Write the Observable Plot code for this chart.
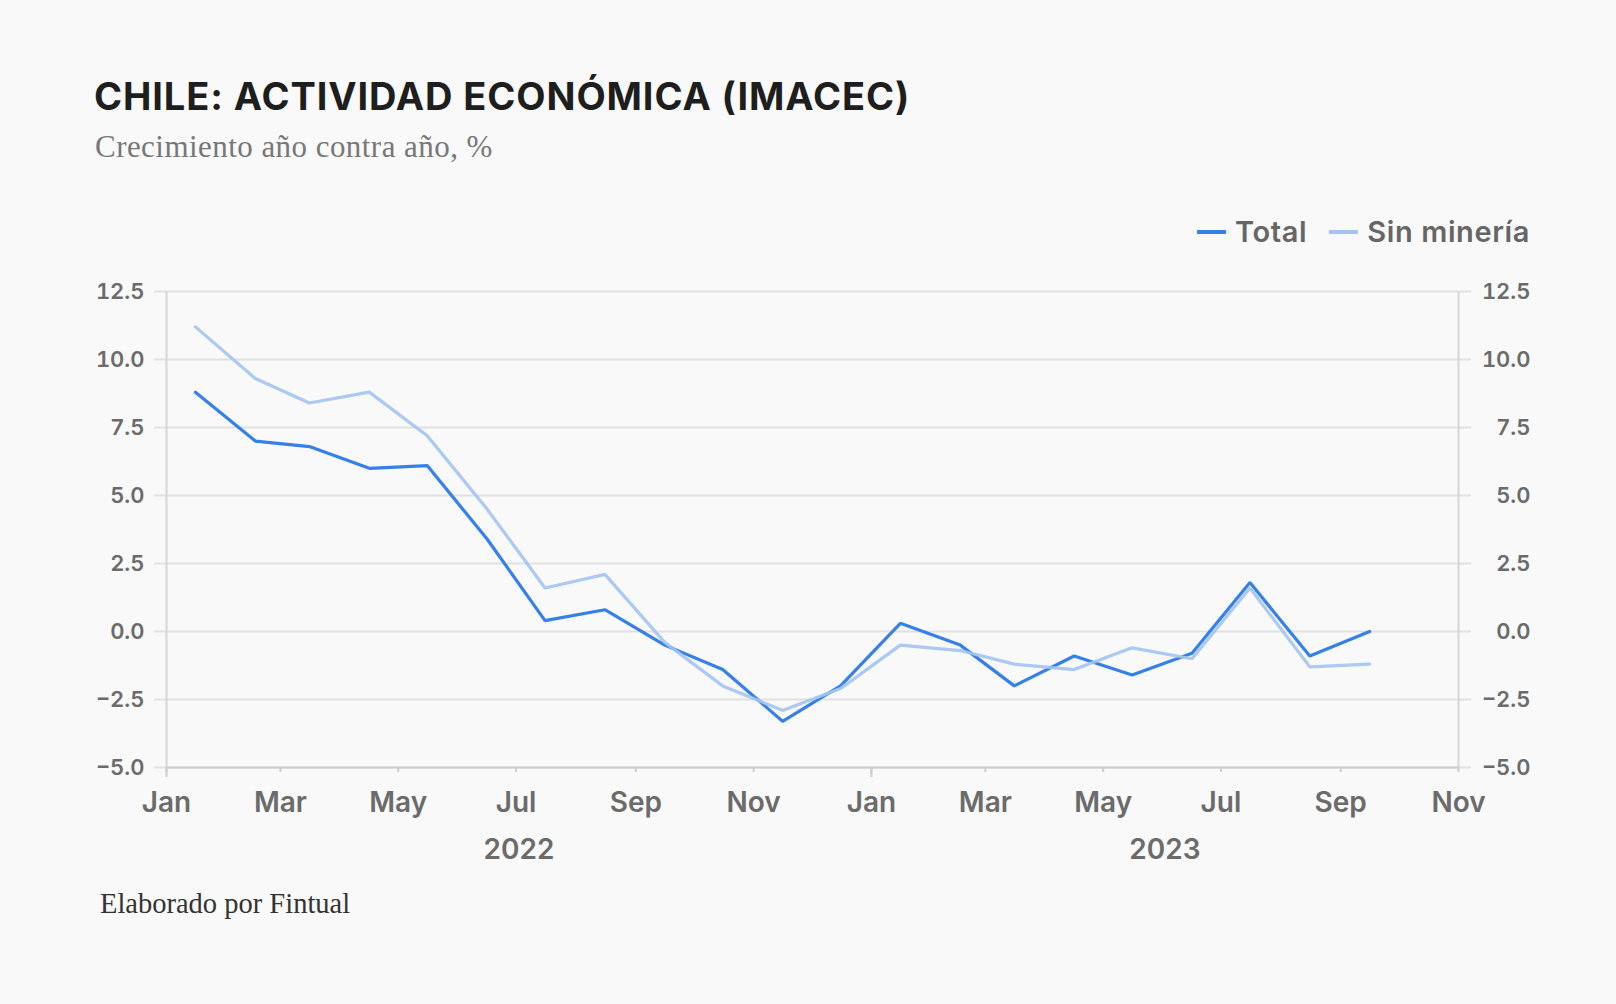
<!DOCTYPE html>
<html>
<head>
<meta charset="utf-8">
<script src="https://cdn.jsdelivr.net/npm/d3@7"></script>
<script src="https://cdn.jsdelivr.net/npm/@observablehq/plot@0.6"></script>
<style>
  html, body { margin: 0; padding: 0; background: #f9f9f9; }
  #page { position: relative; width: 1616px; height: 1004px; background: #f9f9f9; overflow: hidden; }
  .title { position: absolute; left: 94px; top: 77px; font-family: Inter, sans-serif; font-weight: 700; font-size: 38px; line-height: 1; color: #1e1e1e; white-space: nowrap; letter-spacing: 0.9px; }
  .subtitle { position: absolute; left: 95px; top: 131px; font-family: "Liberation Serif", serif; font-size: 31px; line-height: 1; color: #777; white-space: nowrap; letter-spacing: 0.45px; }
  .legend { position: absolute; right: 86px; top: 217px; display: flex; align-items: center; font-family: Inter, sans-serif; font-weight: 600; font-size: 29px; line-height: 1; color: #666; white-space: nowrap; letter-spacing: 0.6px; }
  .legend .item { display: flex; align-items: center; margin-left: 22px; }
  .legend .sw { display: inline-block; width: 29px; height: 4px; margin-right: 9px; }
  #chart { position: absolute; left: 0; top: 260px; }
  .footer { position: absolute; left: 100px; top: 890px; font-family: "Liberation Serif", serif; font-size: 28.5px; line-height: 1; color: #333; white-space: nowrap; }
</style>
</head>
<body>
<div id="page">
  <div class="title">CHILE: ACTIVIDAD ECONÓMICA (IMACEC)</div>
  <div class="subtitle">Crecimiento año contra año, %</div>
  <div class="legend" id="legend"></div>
  <div id="chart"></div>
  <div class="footer">Elaborado por Fintual</div>
</div>
<script>
// ---- data ----
const months = ["2022-01","2022-02","2022-03","2022-04","2022-05","2022-06","2022-07","2022-08","2022-09","2022-10","2022-11","2022-12",
                "2023-01","2023-02","2023-03","2023-04","2023-05","2023-06","2023-07","2023-08","2023-09"];
const total      = [8.8, 7.0, 6.8, 6.0, 6.1, 3.4, 0.4, 0.8, -0.5, -1.4, -3.3, -2.0, 0.3, -0.5, -2.0, -0.9, -1.6, -0.8, 1.8, -0.9, 0.0];
const sinMineria = [11.2, 9.3, 8.4, 8.8, 7.2, 4.5, 1.6, 2.1, -0.4, -2.0, -2.9, -2.1, -0.5, -0.7, -1.2, -1.4, -0.6, -1.0, 1.6, -1.3, -1.2];
const seriesNames = ["Total", "Sin minería"];
const seriesColors = ["#3580ea", "#a2c3f3"];
const yTicks = [-5, -2.5, 0, 2.5, 5, 7.5, 10, 12.5];
const xTickMonths = ["2022-01","2022-03","2022-05","2022-07","2022-09","2022-11","2023-01","2023-03","2023-05","2023-07","2023-09","2023-11"];
const yearStarts = ["2022-01","2023-01"];
const yearLabels = ["2022","2023"];
const xDomain = ["2022-01","2023-11"];

// ---- helpers ----
const monthStart = s => { const [y, m] = s.split("-").map(Number); return new Date(Date.UTC(y, m - 1, 1)); };
const monthMid = s => { const [y, m] = s.split("-").map(Number); return new Date(Date.UTC(y, m - 1, 16)); };
const x0 = monthStart(xDomain[0]), x1 = monthStart(xDomain[1]);

const rows = [];
months.forEach((m, i) => {
  rows.push({date: monthMid(m), value: total[i], series: seriesNames[0]});
});
months.forEach((m, i) => {
  rows.push({date: monthMid(m), value: sinMineria[i], series: seriesNames[1]});
});

const yearStartDates = yearStarts.map(monthStart);
const yearRows = yearLabels.map((label, i) => {
  const a = yearStartDates[i];
  const b = i + 1 < yearStartDates.length ? yearStartDates[i + 1] : x1;
  return {label, date: new Date((+a + +b) / 2)};
});

const fmtY = d => (d < 0 ? "\u2212" : "") + Math.abs(d).toFixed(1);
const textColor = "#6b6b6b";

const chart = Plot.plot({
  width: 1616,
  height: 620,
  marginTop: 31,
  marginBottom: 113,
  marginLeft: 166,
  marginRight: 158,
  style: {background: "transparent", fontFamily: "Inter, sans-serif", overflow: "visible"},
  x: {type: "utc", domain: [x0, x1]},
  y: {domain: [-5, 12.5]},
  color: {domain: seriesNames, range: seriesColors},
  marks: [
    Plot.gridY(yTicks, {stroke: "#e1e1e1", strokeOpacity: 1, strokeWidth: 2}),
    Plot.axisY(yTicks, {anchor: "left", tickSize: 12, tickPadding: 10, stroke: "#e1e1e1", strokeWidth: 2,
      fill: textColor, fontSize: 22, fontWeight: 600, tickFormat: fmtY, label: null}),
    Plot.axisY(yTicks, {anchor: "right", tickSize: 12, tickPadding: 60, textAnchor: "end", stroke: "#e1e1e1", strokeWidth: 2,
      fill: textColor, fontSize: 22, fontWeight: 600, tickFormat: fmtY, label: null}),
    Plot.ruleX([x0, x1], {stroke: "#d6d6d6", strokeWidth: 2}),
    Plot.ruleY([-5], {stroke: "#cdcdcd", strokeWidth: 2}),
    Plot.axisX(xTickMonths.map(monthStart), {anchor: "bottom", tickSize: 5, tickPadding: 20, stroke: "#cdcdcd", strokeWidth: 2,
      fill: textColor, fontSize: 28, fontWeight: 600, tickFormat: d3.utcFormat("%b"), label: null}),
    Plot.axisX(yearStartDates, {anchor: "bottom", tickSize: 10, stroke: "#cdcdcd", strokeWidth: 2, tickFormat: () => "", label: null}),
    Plot.text(yearRows, {x: "date", y: () => -5, text: "label", dy: 91, lineAnchor: "bottom",
      fill: textColor, fontSize: 28, fontWeight: 600}),
    Plot.line(rows.filter(r => r.series === seriesNames[0]), {x: "date", y: "value", stroke: "series", strokeWidth: 3.2, strokeLinejoin: "miter"}),
    Plot.line(rows.filter(r => r.series === seriesNames[1]), {x: "date", y: "value", stroke: "series", strokeWidth: 3.2, strokeOpacity: 0.9, strokeLinejoin: "miter"})
  ]
});
document.getElementById("chart").appendChild(chart);

// legend
const legend = document.getElementById("legend");
seriesNames.forEach((name, i) => {
  const item = document.createElement("div");
  item.className = "item";
  const sw = document.createElement("span");
  sw.className = "sw";
  sw.style.background = seriesColors[i];
  item.appendChild(sw);
  item.appendChild(document.createTextNode(name));
  legend.appendChild(item);
});
</script>
</body>
</html>
